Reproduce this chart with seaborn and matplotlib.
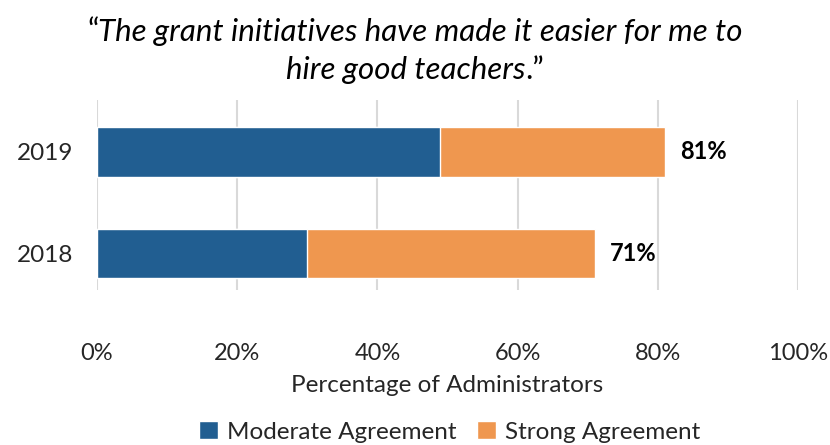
import matplotlib
matplotlib.use("Agg")
import matplotlib.pyplot as plt
import seaborn as sns
import pandas as pd
from matplotlib.patches import Patch

years = ["2019", "2018"]
moderate = [49, 30]
strong = [32, 41]
totals = [m + s for m, s in zip(moderate, strong)]
xticks = [0, 20, 40, 60, 80, 100]
xtick_labels = ["0%", "20%", "40%", "60%", "80%", "100%"]
series_names = ["Moderate Agreement", "Strong Agreement"]
title_line1 = "The grant initiatives have made it easier for me to"
title_line2 = "hire good teachers"
xlabel = "Percentage of Administrators"

blue = "#215E91"
orange = "#EF974F"

sns.set_theme(style="white")
plt.rcParams['font.family'] = ['Lato', 'DejaVu Sans']

df = pd.DataFrame({"year": years, "moderate": moderate, "total": totals})

fig = plt.figure(figsize=(8.3, 4.45), dpi=100)
ax = fig.add_axes([97/830, 1-290/445, (798-97)/830, (290-100)/445])

sns.barplot(data=df, y="year", x="total", color=orange, orient="h",
            width=0.49, ax=ax, saturation=1, order=years)
sns.barplot(data=df, y="year", x="moderate", color=blue, orient="h",
            width=0.49, ax=ax, saturation=1, order=years)

ax.set_xlim(0, 100)
ax.set_ylim(1.36, -0.51)
ax.set_xticks(xticks)
ax.set_xticklabels(xtick_labels, fontsize=17)
ax.tick_params(axis="y", labelsize=17.5, length=0, pad=17)
ax.tick_params(axis="x", length=0, pad=38)
ax.set_ylabel("")
ax.set_xlabel(xlabel, fontsize=17.5, labelpad=8)
ax.grid(axis="x", color="#D9D9D9", linewidth=1.5)
ax.set_axisbelow(True)
for s in ax.spines.values():
    s.set_visible(False)

for i, t in enumerate(totals):
    ax.text(t + 2.2, i, f"{t}%", va="center", ha="left", fontsize=17,
            fontweight="bold", color="black")

handles = [Patch(facecolor=blue, label=series_names[0]),
           Patch(facecolor=orange, label=series_names[1])]
fig.legend(handles=handles, loc="center", bbox_to_anchor=(450/830, 1-432/445),
           ncol=2, frameon=False, fontsize=17.5, handlelength=0.75,
           handleheight=0.75, handletextpad=0.4, columnspacing=0.85,
           borderpad=0)

# Title with upright quotes and italic text
fig.canvas.draw()
renderer = fig.canvas.get_renderer()
tsize = 22.5

def place_line(pieces, y):
    widths = []
    for txt, st in pieces:
        t = fig.text(0, 0, txt, fontsize=tsize, style=st)
        bb = t.get_window_extent(renderer)
        widths.append(bb.width)
        t.remove()
    total_w = sum(widths)
    x = 0.5 * fig.bbox.width - total_w / 2
    for (txt, st), w in zip(pieces, widths):
        fig.text(x / fig.bbox.width, y, txt, fontsize=tsize, style=st,
                 va="center", ha="left", color="black")
        x += w

place_line([("\u201c", "normal"), (title_line1, "italic")], 1 - 32/445)
place_line([(title_line2, "italic"), (".\u201d", "normal")], 1 - 70/445)

fig.savefig("out.png", dpi=100)
